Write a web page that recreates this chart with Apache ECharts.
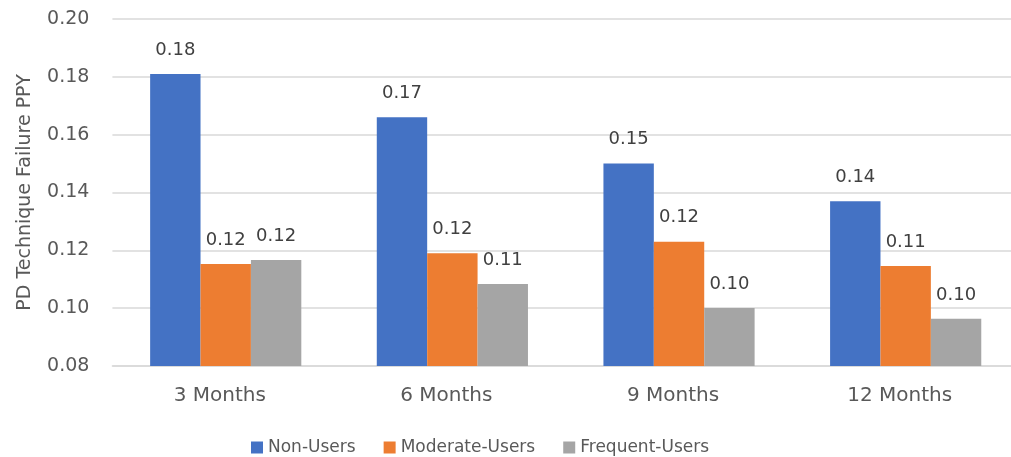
<!DOCTYPE html>
<html>
<head>
<meta charset="utf-8">
<title>PD Technique Failure PPY</title>
<script src="https://cdn.jsdelivr.net/npm/echarts@6/dist/echarts.min.js"></script>
<style>
  html, body { margin: 0; padding: 0; background: #ffffff; overflow: hidden; }
  /* the plot area runs a little past the window's right edge */
  #chart { width: 1019px; height: 457px; }
</style>
</head>
<body>
<div id="chart"></div>
<script>
// Follow-up periods on the category axis
const categories = ['3 Months', '6 Months', '9 Months', '12 Months'];

// Technique failure rate per patient-year, by user group
const nonUsers = [0.181, 0.166, 0.150, 0.137];
const moderateUsers = [0.1153, 0.119, 0.123, 0.1146];
const frequentUsers = [0.1167, 0.1084, 0.1001, 0.0963];

const seriesNames = ['Non-Users', 'Moderate-Users', 'Frequent-Users'];
const seriesColors = ['#4472C4', '#ED7D31', '#A5A5A5'];

// Value axis range
const yMin = 0.08;
const yMax = 0.20;
const yStep = 0.02;

const FONT = 'DejaVu Sans';
const gridColor = '#d9d9d9';
const textColor = '#595959';

function makeSeries(name, values, color) {
  return {
    name: name,
    type: 'bar',
    data: values,
    barGap: '0%',
    barCategoryGap: '33.3%',
    itemStyle: { color: color },
    label: {
      show: true,
      position: 'top',
      distance: 15,
      fontFamily: FONT,
      fontSize: 18,
      color: '#404040',
      formatter: p => p.value.toFixed(2)
    }
  };
}

const chart = echarts.init(document.getElementById('chart'), null, { renderer: 'canvas' });
chart.setOption({
  animation: false,
  backgroundColor: '#ffffff',
  grid: { left: 112.4, right: 0, top: 19, bottom: 91, containLabel: false },
  legend: {
    data: seriesNames,
    left: 246,
    top: 434,
    icon: 'rect',
    itemWidth: 12,
    itemHeight: 12,
    itemGap: 28,
    textStyle: { fontFamily: FONT, fontSize: 17, color: textColor }
  },
  xAxis: {
    type: 'category',
    data: categories,
    axisLine: { show: true, lineStyle: { color: gridColor, width: 1.5 } },
    axisTick: { show: false },
    axisLabel: {
      fontFamily: FONT,
      fontSize: 20,
      color: textColor,
      margin: 20,
      padding: [0, 12, 0, 0]
    }
  },
  yAxis: {
    type: 'value',
    min: yMin,
    max: yMax,
    interval: yStep,
    name: 'PD Technique Failure PPY',
    nameLocation: 'middle',
    nameGap: 78,
    nameTextStyle: { fontFamily: FONT, fontSize: 19, color: textColor },
    axisLine: { show: false },
    axisTick: { show: false },
    splitLine: { lineStyle: { color: gridColor, width: 1.5 } },
    axisLabel: {
      fontFamily: FONT,
      fontSize: 19,
      color: textColor,
      margin: 23,
      formatter: v => v.toFixed(2)
    }
  },
  series: [
    makeSeries(seriesNames[0], nonUsers, seriesColors[0]),
    makeSeries(seriesNames[1], moderateUsers, seriesColors[1]),
    makeSeries(seriesNames[2], frequentUsers, seriesColors[2])
  ]
});
</script>
</body>
</html>
